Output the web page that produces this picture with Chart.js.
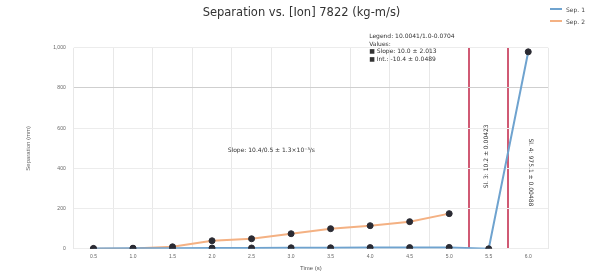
<!DOCTYPE html>
<html>
<head>
<meta charset="utf-8">
<script src="https://cdn.jsdelivr.net/npm/chart.js@4.4.0/dist/chart.umd.min.js"></script>
<style>
  body { margin: 0; background: #fff; font-family: "DejaVu Sans", sans-serif; }
  #wrap { position: relative; width: 591px; height: 276px; }
  #legenda { position: absolute; right: 6px; top: 3px; font-size: 6px; color: #444; }
  #legenda div { display: flex; align-items: center; height: 12px; }
  #legenda span.linha { display: inline-block; width: 12px; height: 2px; margin-right: 4px; }
</style>
</head>
<body>
<div id="wrap">
  <canvas id="grafico" width="591" height="276"></canvas>
  <div id="legenda">
    <div><span class="linha" style="background:#6fa3cf"></span>Sep. 1</div>
    <div><span class="linha" style="background:#f4b183"></span>Sep. 2</div>
  </div>
</div>
<script>
// Dados do gráfico
const categorias = ["0.5", "1.0", "1.5", "2.0", "2.5", "3.0", "3.5", "4.0", "4.5", "5.0", "5.5", "6.0"];
const serieAzul = [2, 3, 3, 4, 4, 5, 5, 6, 6, 7, 0, 980];
const serieLaranja = [0, 2, 10, 40, 50, 75, 100, 115, 135, 175, null, null];
const ticksY = [0, 200, 400, 600, 800, 1000];

// Linhas de grade vermelhas (índices das divisões entre categorias)
const linhasVermelhas = [10, 11];

// Textos de anotação
const textoCaixa = ["Legend: 10.0041/1.0-0.0704", "Values:", "\u25A0 Slope: 10.0 \u00B1 2.013", "\u25A0 Int.: -10.4 \u00B1 0.0489"];
const textoSlope = "Slope: 10.4/0.5 \u00B1 1.3\u00D710\u207B\u00B3/s";
const textoVertical1 = "Sl. 3: 10.2 \u00B1 0.00423";
const textoVertical2 = "Sl. 4: 975.1 \u00B1 0.00488";

// Plugin para desenhar as anotações
const anotacoes = {
  id: "anotacoes",
  afterDatasetsDraw(chart) {
    const ctx = chart.ctx;
    const x = chart.scales.x;
    const y = chart.scales.y;
    ctx.save();
    ctx.fillStyle = "#333";
    ctx.font = "6px 'DejaVu Sans'";
    ctx.textBaseline = "middle";

    // caixa superior
    const xCaixa = x.getPixelForValue(7) - 1;
    textoCaixa.forEach((t, i) => {
      ctx.fillText(t, xCaixa, y.getPixelForValue(1055) + i * 7.5);
    });

    // texto central
    ctx.textAlign = "center";
    const meio = (x.getPixelForValue(4) + x.getPixelForValue(5)) / 2;
    ctx.fillText(textoSlope, meio, y.getPixelForValue(490));

    // textos verticais
    [[textoVertical1, 10, 460, -2], [textoVertical2, 11, 380, 2]].forEach(([t, idx, v, dx]) => {
      ctx.save();
      ctx.translate(x.getPixelForValue(idx) + dx, y.getPixelForValue(v));
      ctx.rotate(idx === 10 ? -Math.PI / 2 : Math.PI / 2);
      ctx.fillText(t, 0, 0);
      ctx.restore();
    });
    ctx.restore();
  }
};

new Chart(document.getElementById("grafico"), {
  type: "line",
  data: {
    labels: categorias,
    datasets: [
      {
        label: "Sep. 1",
        data: serieAzul,
        borderColor: "#6fa3cf",
        borderWidth: 2,
        pointBackgroundColor: "#2b2b33",
        pointBorderColor: "#2b2b33",
        pointRadius: 3,
        pointBorderWidth: 1,
        tension: 0
      },
      {
        label: "Sep. 2",
        data: serieLaranja,
        borderColor: "#f4b183",
        borderWidth: 2,
        pointBackgroundColor: "#2b2b33",
        pointBorderColor: "#2b2b33",
        pointRadius: 3,
        pointBorderWidth: 1,
        tension: 0
      }
    ]
  },
  options: {
    responsive: false,
    animation: false,
    layout: { padding: { left: 12, right: 0, top: 6, bottom: 4 } },
    plugins: {
      legend: { display: false },
      tooltip: { enabled: false },
      title: {
        display: true,
        text: "Separation vs. [Ion] 7822 (kg-m/s)",
        color: "#333",
        font: { size: 11.5, family: "DejaVu Sans", weight: "normal" },
        padding: { top: 0, bottom: 28 }
      }
    },
    scales: {
      x: {
        offset: true,
        grid: {
          offset: true,
          color: (c) => linhasVermelhas.includes(c.index) ? "#d05a74" : "#e8e8e8",
          lineWidth: (c) => linhasVermelhas.includes(c.index) ? 2 : 1,
          drawTicks: false
        },
        border: { display: false },
        ticks: { color: "#666", font: { size: 5 }, padding: 5 },
        title: { display: true, text: "Time (s)", color: "#555", font: { size: 6 }, padding: 0 }
      },
      y: {
        min: 0,
        max: 1000,
        afterBuildTicks: (axis) => { axis.ticks = ticksY.map(v => ({ value: v })); },
        grid: {
          color: (c) => c.tick && c.tick.value === 800 ? "#cfcfcf" : "#ececec",
          drawTicks: false
        },
        border: { display: false },
        ticks: { color: "#666", font: { size: 5 }, padding: 8 },
        title: { display: true, text: "Separation (mm)", color: "#666", font: { size: 6 }, padding: 13 }
      },
      margemDireita: {
        type: "linear",
        position: "right",
        display: true,
        grid: { display: false },
        border: { display: false },
        ticks: { display: false },
        afterFit: (s) => { s.width = 43; }
      }
    }
  },
  plugins: [anotacoes]
});
</script>
</body>
</html>
